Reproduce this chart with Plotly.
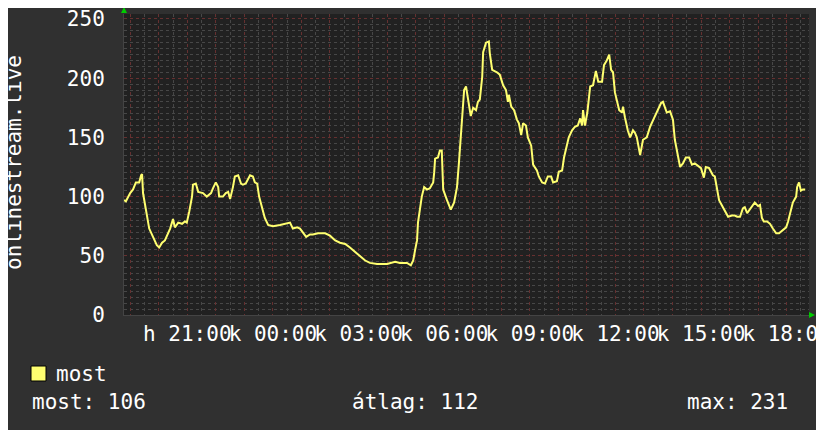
import pandas as pd
import plotly.graph_objects as go

# onlinestream.live listeners, last 24 h (rrdtool-style graph)
TIMES = ["18:47", "18:51", "19:00", "19:06", "19:12", "19:19", "19:23", "19:25", "19:27", "19:33",
         "19:40", "19:48", "19:56", "20:01", "20:07", "20:13", "20:19", "20:24", "20:30", "20:34",
         "20:41", "20:49", "20:55", "20:59", "21:04", "21:10", "21:12", "21:18", "21:23", "21:33",
         "21:41", "21:50", "21:54", "22:00", "22:05", "22:07", "22:15", "22:21", "22:26", "22:30",
         "22:36", "22:40", "22:47", "22:53", "22:57", "23:03", "23:12", "23:18", "23:22", "23:27",
         "23:31", "23:37", "23:43", "23:50", "00:00", "00:15", "00:30", "00:36", "00:42", "00:51",
         "00:57", "01:03", "01:10", "01:18", "01:24", "01:35", "01:50", "02:00", "02:11", "02:21",
         "02:32", "02:42", "02:53", "03:03", "03:14", "03:24", "03:39", "04:00", "04:17", "04:27",
         "04:42", "04:50", "04:55", "04:59", "05:03", "05:05", "05:09", "05:13", "05:18", "05:24",
         "05:30", "05:37", "05:39", "05:41", "05:47", "05:51", "05:55", "05:58", "06:06", "06:14",
         "06:21", "06:27", "06:31", "06:37", "06:42", "06:46", "06:50", "06:52", "06:56", "07:01",
         "07:07", "07:11", "07:15", "07:20", "07:22", "07:28", "07:34", "07:36", "07:41", "07:51",
         "07:57", "08:04", "08:10", "08:14", "08:16", "08:21", "08:27", "08:33", "08:37", "08:42",
         "08:46", "08:52", "08:56", "09:03", "09:07", "09:15", "09:19", "09:26", "09:32", "09:38",
         "09:45", "09:49", "09:57", "10:01", "10:08", "10:12", "10:18", "10:22", "10:29", "10:35",
         "10:41", "10:46", "10:50", "10:52", "10:56", "11:01", "11:07", "11:13", "11:19", "11:24",
         "11:32", "11:36", "11:42", "11:47", "11:51", "11:55", "11:59", "12:03", "12:08", "12:14",
         "12:16", "12:20", "12:26", "12:31", "12:37", "12:41", "12:45", "12:52", "12:58", "13:06",
         "13:13", "13:21", "13:27", "13:36", "13:40", "13:44", "13:48", "13:55", "14:01", "14:05",
         "14:09", "14:16", "14:22", "14:28", "14:35", "14:41", "14:47", "14:54", "15:00", "15:06",
         "15:10", "15:17", "15:25", "15:29", "15:34", "15:38", "15:46", "15:52", "15:57", "16:05",
         "16:11", "16:16", "16:22", "16:28", "16:32", "16:37", "16:43", "16:49", "16:53", "17:00",
         "17:04", "17:08", "17:12", "17:19", "17:25", "17:31", "17:38", "17:44", "17:52", "17:59",
         "18:03", "18:09", "18:13", "18:20", "18:22", "18:26", "18:30", "18:34", "18:39"]
VALUES = [97, 96, 103, 106, 112, 112, 118, 119, 103, 89,
          73, 66, 59, 57, 61, 63, 69, 73, 81, 74,
          78, 77, 79, 78, 87, 100, 110, 111, 104, 103,
          100, 103, 107, 112, 108, 100, 100, 103, 104, 98,
          108, 117, 118, 111, 110, 111, 118, 117, 112, 111,
          100, 90, 82, 76, 75, 76, 77, 78, 73, 74,
          73, 70, 66, 68, 68, 69, 69, 67, 63, 61,
          60, 57, 53, 50, 46, 44, 43, 43, 45, 44,
          44, 42, 46, 55, 63, 78, 91, 100, 108, 106,
          107, 112, 120, 132, 133, 139, 139, 106, 97, 89,
          95, 108, 128, 162, 190, 193, 184, 176, 168, 175,
          173, 180, 182, 201, 222, 230, 231, 221, 207, 205,
          203, 194, 190, 180, 186, 176, 173, 165, 162, 152,
          162, 160, 150, 143, 127, 122, 117, 112, 111, 117,
          117, 112, 113, 121, 122, 133, 142, 150, 156, 159,
          160, 166, 160, 173, 160, 171, 193, 194, 206, 197,
          197, 211, 215, 220, 207, 205, 188, 182, 173, 171,
          176, 167, 156, 150, 156, 154, 150, 135, 148, 150,
          159, 166, 171, 179, 180, 176, 171, 172, 165, 148,
          139, 125, 128, 133, 133, 127, 128, 126, 124, 116,
          125, 124, 118, 117, 107, 97, 91, 86, 83, 84,
          84, 83, 83, 90, 91, 86, 89, 93, 95, 92,
          93, 82, 79, 79, 77, 73, 69, 69, 72, 74,
          79, 89, 95, 100, 108, 112, 105, 106, 106]

START = "2024-01-01 18:47"   # Monday (hétfő)
END = "2024-01-02 18:47"
DAY_ABBR = ["h", "k"]         # hétfő, kedd
STATS = [("most", 106), ("átlag", 112), ("max", 231)]
SERIES = "most"
Y_TITLE = "onlinestream.live"

BG = "#303030"
PLOT_BG = "#212121"
LINE = "#ffff70"
GRID_MAJOR = "#663030"
GRID_MINOR = "#474747"
FONT = "DejaVu Sans Mono"
FS = 21

base = pd.Timestamp(START).normalize()
xs, day, prev = [], 0, None
for t in TIMES:
    h, m = map(int, t.split(":"))
    mins = h * 60 + m
    if prev is not None and mins < prev:
        day += 1
    prev = mins
    xs.append(base + pd.Timedelta(days=day, minutes=mins))

# hourly major grid, label every third hour
tickvals = pd.date_range(pd.Timestamp(START).ceil("h"), pd.Timestamp(END), freq="h")
ticktext = [f"{DAY_ABBR[(tv.normalize() - base).days]} {tv:%H:%M}" if tv.hour % 3 == 0 else ""
            for tv in tickvals]

fig = go.Figure()
fig.add_trace(go.Scatter(x=xs, y=VALUES, mode="lines",
                         line=dict(color=LINE, width=2), showlegend=False,
                         hoverinfo="skip"))

# the page puts the figure 8px in from the top-left corner; lay out in screen pixels
OFF = 8
W, H = 824, 430
PL, PR, PT, PB = 124, 809, 14, 315      # plot box on screen
L, T = PL - OFF, PT - OFF
R, B = W - (PR - OFF), H - (PB - OFF)
pw, ph = PR - PL, PB - PT


def px(x):
    return (x - PL) / pw


def py(y):
    return (PB - y) / ph


ann = [dict(text=Y_TITLE, textangle=-90, xref="paper", yref="paper",
            x=px(14), y=py(163), xanchor="center", yanchor="middle",
            showarrow=False, font=dict(family=FONT, size=FS, color="white"))]
ann.append(dict(text=SERIES, xref="paper", yref="paper", x=px(54), y=py(374),
                xanchor="left", yanchor="middle", showarrow=False,
                font=dict(family=FONT, size=FS, color="white")))
for (lab, val), left in zip(STATS, [30, 350, 685]):
    ann.append(dict(text=f"{lab}: {val}", xref="paper", yref="paper",
                    x=px(left), y=py(402), xanchor="left", yanchor="middle",
                    showarrow=False, font=dict(family=FONT, size=FS, color="white")))

shapes = [
    dict(type="rect", xref="paper", yref="paper", x0=px(31), x1=px(46),
         y0=py(381), y1=py(366), fillcolor=LINE, line=dict(color="black", width=1)),
    # green axis arrows
    dict(type="path", xref="paper", yref="paper", fillcolor="#00cc00", line_width=0,
         path=f"M {px(121)},{py(13)} L {px(127)},{py(13)} L {px(124)},{py(7)} Z"),
    dict(type="path", xref="paper", yref="paper", fillcolor="#00cc00", line_width=0,
         path=f"M {px(809)},{py(312)} L {px(809)},{py(318)} L {px(815)},{py(315)} Z"),
]

fig.update_layout(
    width=W, height=H, margin=dict(l=L, r=R, t=T, b=B, autoexpand=False),
    paper_bgcolor=BG, plot_bgcolor=PLOT_BG,
    font=dict(family=FONT, size=FS, color="white"),
    xaxis=dict(type="date", range=[START, END], tickmode="array",
               tickvals=tickvals, ticktext=ticktext, tickangle=0,
               automargin=False, ticklabeloverflow="allow",
               showgrid=True, gridcolor=GRID_MAJOR, griddash="dot", gridwidth=1,
               minor=dict(dtick=30 * 60 * 1000, tick0=START[:11] + "18:30",
                          showgrid=True, gridcolor=GRID_MINOR, griddash="dot"),
               ticks="", zeroline=False, showline=True, linecolor="#444444",
               tickfont=dict(family=FONT, size=FS, color="white")),
    yaxis=dict(range=[0, 254.2], tick0=0, dtick=50, automargin=False,
               ticklabeloverflow="allow",
               showgrid=True, gridcolor=GRID_MAJOR, griddash="dot",
               minor=dict(dtick=5, showgrid=True, gridcolor=GRID_MINOR, griddash="dot"),
               ticks="", ticklabelstandoff=14, zeroline=False,
               showline=True, linecolor="#444444",
               tickfont=dict(family=FONT, size=FS, color="white")),
    annotations=ann, shapes=shapes, hovermode=False,
)

fig.write_html("out.html")
